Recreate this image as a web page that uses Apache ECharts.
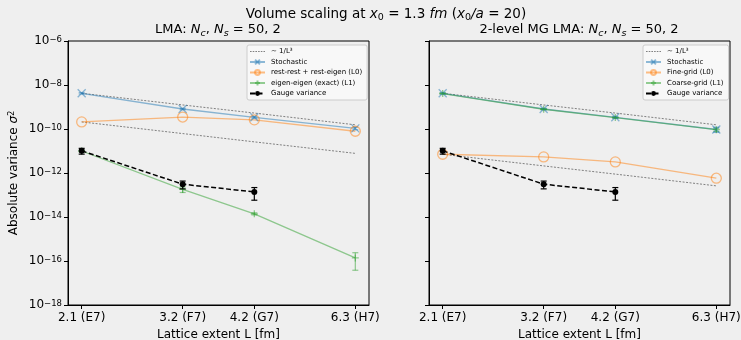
<!DOCTYPE html>
<html><head><meta charset="utf-8">
<script src="https://cdn.jsdelivr.net/npm/echarts@6/dist/echarts.min.js"></script>
<style>html,body{margin:0;padding:0;background:#efefef}#c{width:741px;height:340px}</style>
</head><body><div id="c"></div>
<script>
// ---- data ----
const latticeExtent = [2.08, 3.12, 4.16, 6.24];
const tickLabels = ['2.1 (E7)', '3.2 (F7)', '4.2 (G7)', '6.3 (H7)'];
const yTicks = [1e-18, 1e-16, 1e-14, 1e-12, 1e-10, 1e-8, 1e-6];

// left panel: LMA
const lmaStochastic = [4.2e-9, 8.1e-10, 3.4e-10, 1.07e-10];
const lmaStochasticErr = [0.3e-9, 0.6e-10, 0.3e-10, 0.15e-10];
const lmaRestRest = [2.1e-10, 3.5e-10, 2.6e-10, 7.9e-11];
const lmaEigenEigen = [1.0e-11, 1.8e-13, 1.4e-14, 1.38e-16];
const lmaEigenEigenErr = [0.1e-11, 0.5e-13, 0.15e-14, 1.0e-16];
const lmaScaleUpper = [4.2e-9, 1.24e-9, 5.3e-10, 1.55e-10];
const lmaScaleLower = [2.1e-10, 6.2e-11, 2.6e-11, 7.8e-12];

// gauge variance (both panels)
const gaugeVariance = [1.02e-11, 3.1e-13, 1.38e-13];
const gaugeVarianceErr = [0.3e-11, 1.2e-13, 0.8e-13];

// right panel: 2-level MG LMA
const mgStochastic = [4.2e-9, 8.1e-10, 3.4e-10, 9.5e-11];
const mgStochasticErr = [0.3e-9, 0.6e-10, 0.3e-10, 2.5e-11];
const mgFineGrid = [7.1e-12, 5.4e-12, 3.2e-12, 5.8e-13];
const mgCoarseGrid = [4.1e-9, 7.9e-10, 3.3e-10, 9.3e-11];
const mgCoarseGridErr = [0.2e-9, 0.4e-10, 0.2e-10, 1.5e-11];
const mgScaleUpper = [4.2e-9, 1.24e-9, 5.3e-10, 1.55e-10];
const mgScaleLower = [7.1e-12, 2.1e-12, 8.9e-13, 2.6e-13];

// ---- styling ----
const FONT = 'DejaVu Sans';
const BLUE = 'rgba(31,119,180,0.5)';
const ORANGE = 'rgba(255,127,14,0.5)';
const GREEN = 'rgba(44,160,44,0.5)';
const SCALE_NAME = '∼ 1/L³';
const xSym = 'path://M0,0L10,10M10,0L0,10';
const plusSym = 'path://M5,0L5,10M0,5L10,5';
const dottedIcon = 'path://M0,0L0.01,0L0.01,0.01ZM15,6L15.01,6L15.01,6.01Z' +
  'M0,2.6h1.6v0.8h-1.6zM2.7,2.6h1.6v0.8h-1.6zM5.4,2.6h1.6v0.8h-1.6zM8.1,2.6h1.6v0.8h-1.6zM10.8,2.6h1.6v0.8h-1.6zM13.5,2.6h1.5v0.8h-1.5z';

const pad = Math.pow(10, 0.05 * Math.log10(latticeExtent[3] / latticeExtent[0]));
const xMin = latticeExtent[0] / pad, xMax = latticeExtent[3] * pad;

function pairs(vals) { return vals.map((v, i) => [latticeExtent[i], v]); }

function lineSeries(ai, name, vals, o) {
  return Object.assign({
    type: 'line', name: name, xAxisIndex: ai, yAxisIndex: ai,
    data: pairs(vals), animation: false, z: 3
  }, o);
}
function scaleSeries(ai, vals) {
  return lineSeries(ai, SCALE_NAME, vals, {
    symbol: 'none', z: 2,
    lineStyle: { color: '#808080', width: 1, type: [2, 1.5] },
    itemStyle: { color: '#808080' }
  });
}
function errSeries(ai, vals, errs, color, z) {
  return {
    type: 'custom', xAxisIndex: ai, yAxisIndex: ai, silent: true, z: z, animation: false,
    data: vals.map((v, i) => [latticeExtent[i], v - errs[i], v + errs[i]]),
    encode: { x: 0, y: [1, 2] },
    renderItem(params, api) {
      const lo = api.coord([api.value(0), api.value(1)]);
      const hi = api.coord([api.value(0), api.value(2)]);
      const cw = 3;
      const st = () => ({ stroke: color, lineWidth: 1.2 });
      return { type: 'group', children: [
        { type: 'line', shape: { x1: lo[0], y1: lo[1], x2: hi[0], y2: hi[1] }, style: st() },
        { type: 'line', shape: { x1: lo[0] - cw, y1: lo[1], x2: lo[0] + cw, y2: lo[1] }, style: st() },
        { type: 'line', shape: { x1: hi[0] - cw, y1: hi[1], x2: hi[0] + cw, y2: hi[1] }, style: st() }
      ] };
    }
  };
}
const stochStyle = {
  symbol: xSym, symbolSize: 8,
  lineStyle: { color: BLUE, width: 1.3 },
  itemStyle: { color: BLUE, borderColor: BLUE, borderWidth: 1.3 }
};
const orangeStyle = {
  symbol: 'circle', symbolSize: 10,
  lineStyle: { color: ORANGE, width: 1.3 },
  itemStyle: { color: 'rgba(0,0,0,0)', borderColor: ORANGE, borderWidth: 1.3 }
};
const greenStyle = {
  symbol: plusSym, symbolSize: 7,
  lineStyle: { color: GREEN, width: 1.3 },
  itemStyle: { color: GREEN, borderColor: GREEN, borderWidth: 1.3 }
};
const gaugeStyle = {
  symbol: 'circle', symbolSize: 6, z: 6,
  lineStyle: { color: '#000', width: 1.5, type: [5, 2.5] },
  itemStyle: { color: '#000', borderColor: '#000', borderWidth: 0 }
};

function xAxis(gi) {
  return {
    type: 'log', logBase: 10, gridIndex: gi, min: xMin, max: xMax,
    name: 'Lattice extent L [fm]', nameLocation: 'middle', nameGap: 23,
    nameTextStyle: { fontFamily: FONT, fontSize: 12, color: '#000' },
    axisLine: { show: true, onZero: false, lineStyle: { color: '#000', width: 1 } },
    axisTick: { show: true, length: 4, lineStyle: { color: '#000' }, customValues: latticeExtent },
    minorTick: { show: false },
    splitLine: { show: false },
    axisLabel: {
      customValues: latticeExtent, margin: 7,
      fontFamily: FONT, fontSize: 12, color: '#000',
      formatter: v => {
        let best = 0;
        latticeExtent.forEach((L, i) => { if (Math.abs(L - v) < Math.abs(latticeExtent[best] - v)) best = i; });
        return tickLabels[best];
      }
    }
  };
}
function yAxis(gi, showLabels) {
  return {
    type: 'log', logBase: 10, gridIndex: gi, min: 1e-18, max: 1e-6,
    name: showLabels ? 'Absolute variance {i|σ}{p|2}' : '',
    nameLocation: 'middle', nameGap: 48, nameRotate: 90,
    nameTextStyle: {
      fontFamily: FONT, fontSize: 12, color: '#000',
      rich: { i: { fontFamily: FONT, fontSize: 12, fontStyle: 'italic', color: '#000' },
              p: { fontFamily: FONT, fontSize: 8, verticalAlign: 'top', color: '#000' } }
    },
    axisLine: { show: true, onZero: false, lineStyle: { color: '#000', width: 1 } },
    axisTick: { show: true, length: 4, lineStyle: { color: '#000' }, customValues: yTicks },
    minorTick: { show: false },
    splitLine: { show: false },
    axisLabel: {
      show: showLabels, customValues: yTicks, margin: 6,
      formatter: v => '{b|10}{p|−' + Math.round(-Math.log10(v)) + '}',
      rich: {
        b: { fontFamily: FONT, fontSize: 12, color: '#000', verticalAlign: 'bottom' },
        p: { fontFamily: FONT, fontSize: 8.5, color: '#000', verticalAlign: 'top' }
      }
    }
  };
}
function richTitle(fs) {
  return {
    n: { fontFamily: FONT, fontSize: fs, fontWeight: 'normal', color: '#000', lineHeight: 18, verticalAlign: 'middle' },
    i: { fontFamily: FONT, fontSize: fs, fontWeight: 'normal', fontStyle: 'italic', color: '#000', lineHeight: 18, verticalAlign: 'middle' },
    s: { fontFamily: FONT, fontSize: 9.5, fontWeight: 'normal', color: '#000', verticalAlign: 'bottom' },
    si: { fontFamily: FONT, fontSize: 9.5, fontWeight: 'normal', fontStyle: 'italic', color: '#000', verticalAlign: 'bottom' }
  };
}
function titleText(fs) { return { fontFamily: FONT, fontWeight: 'normal', color: '#000', rich: richTitle(fs) }; }
const legendCommon = {
  orient: 'vertical', itemWidth: 15, itemHeight: 6, itemGap: 3.5,
  padding: [3, 5, 3, 2], backgroundColor: 'rgba(255,255,255,0.55)',
  borderColor: '#cccccc', borderWidth: 1, borderRadius: 2,
  selectedMode: false,
  textStyle: { fontFamily: FONT, fontSize: 7, color: '#000', padding: [0, 0, 0, 1] }
};
const scaleLegendItem = { name: SCALE_NAME, icon: dottedIcon, itemStyle: { color: '#808080' } };

const option = {
  backgroundColor: '#efefef',
  animation: false,
  title: [
    { text: '{n|Volume scaling at }{i|x}{s|0}{n| = 1.3 }{i|fm}{n| (}{i|x}{s|0}{i|/a}{n| = 20)}',
      left: 386, top: 5, textAlign: 'center', padding: 0, textStyle: titleText(13.5) },
    { text: '{n|LMA: }{i|N}{si|c}{n|, }{i|N}{si|s}{n| = 50, 2}',
      left: 218, top: 21, textAlign: 'center', padding: 0, textStyle: titleText(13) },
    { text: '{n|2-level MG LMA: }{i|N}{si|c}{n|, }{i|N}{si|s}{n| = 50, 2}',
      left: 579, top: 21, textAlign: 'center', padding: 0, textStyle: titleText(13) }
  ],
  legend: [
    Object.assign({ left: 247, top: 45,
      data: [scaleLegendItem, 'Stochastic', 'rest-rest + rest-eigen (L0)', 'eigen-eigen (exact) (L1)', 'Gauge variance'] }, legendCommon),
    Object.assign({ left: 643, top: 45,
      data: [scaleLegendItem, 'Stochastic', 'Fine-grid (L0)', 'Coarse-grid (L1)', 'Gauge variance'] }, legendCommon)
  ],
  grid: [
    { left: 68, top: 41, width: 301, height: 264, show: true, borderColor: '#000', borderWidth: 1, backgroundColor: 'transparent', outerBoundsMode: 'none', containLabel: false },
    { left: 429, top: 41, width: 301, height: 264, show: true, borderColor: '#000', borderWidth: 1, backgroundColor: 'transparent', outerBoundsMode: 'none', containLabel: false }
  ],
  xAxis: [xAxis(0), xAxis(1)],
  yAxis: [yAxis(0, true), yAxis(1, false)],
  series: [
    scaleSeries(0, lmaScaleUpper),
    scaleSeries(0, lmaScaleLower),
    lineSeries(0, 'Stochastic', lmaStochastic, stochStyle),
    errSeries(0, lmaStochastic, lmaStochasticErr, BLUE, 3),
    lineSeries(0, 'rest-rest + rest-eigen (L0)', lmaRestRest, orangeStyle),
    lineSeries(0, 'eigen-eigen (exact) (L1)', lmaEigenEigen, greenStyle),
    errSeries(0, lmaEigenEigen, lmaEigenEigenErr, GREEN, 3),
    lineSeries(0, 'Gauge variance', gaugeVariance, gaugeStyle),
    errSeries(0, gaugeVariance, gaugeVarianceErr, '#000', 6),

    scaleSeries(1, mgScaleUpper),
    scaleSeries(1, mgScaleLower),
    lineSeries(1, 'Stochastic', mgStochastic, stochStyle),
    errSeries(1, mgStochastic, mgStochasticErr, BLUE, 3),
    lineSeries(1, 'Fine-grid (L0)', mgFineGrid, orangeStyle),
    lineSeries(1, 'Coarse-grid (L1)', mgCoarseGrid, greenStyle),
    errSeries(1, mgCoarseGrid, mgCoarseGridErr, GREEN, 3),
    lineSeries(1, 'Gauge variance', gaugeVariance, gaugeStyle),
    errSeries(1, gaugeVariance, gaugeVarianceErr, '#000', 6)
  ]
};
const chart = echarts.init(document.getElementById('c'), null, { renderer: 'canvas' });
chart.setOption(option);
</script></body></html>
